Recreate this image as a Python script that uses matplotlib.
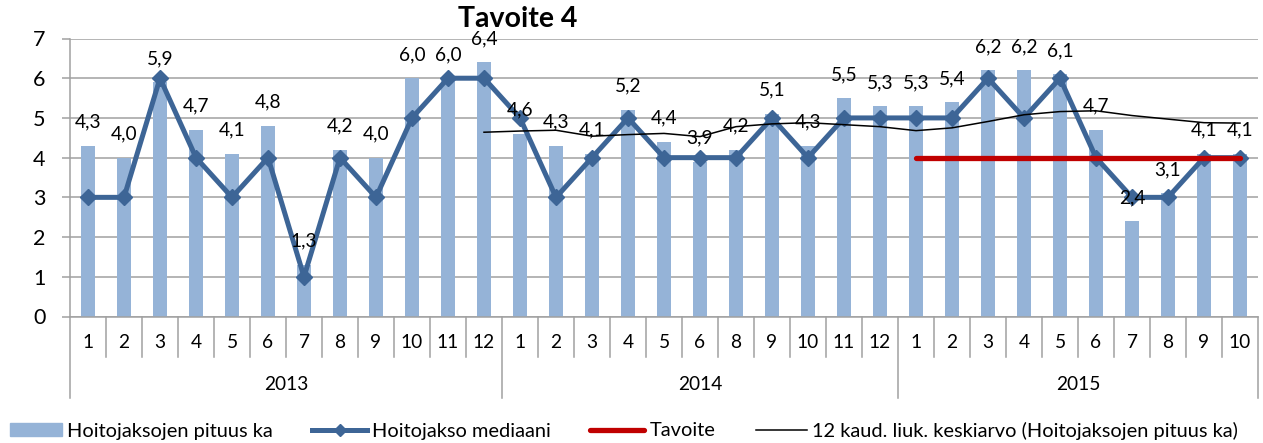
import matplotlib
matplotlib.use("agg")
import matplotlib.pyplot as plt
import matplotlib.transforms as mtransforms
from matplotlib.lines import Line2D
from matplotlib.patches import Patch

plt.rcParams["font.family"] = ["Lato", "DejaVu Sans"]

years = ["2013", "2014", "2015"]
months = [
    [1, 2, 3, 4, 5, 6, 7, 8, 9, 10, 11, 12],
    [1, 2, 3, 4, 5, 6, 8, 9, 10, 11, 12],
    [1, 2, 3, 4, 5, 6, 7, 8, 9, 10],
]
pituus_ka = [4.3, 4.0, 5.9, 4.7, 4.1, 4.8, 1.3, 4.2, 4.0, 6.0, 6.0, 6.4,
             4.6, 4.3, 4.1, 5.2, 4.4, 3.9, 4.2, 5.1, 4.3, 5.5, 5.3,
             5.3, 5.4, 6.2, 6.2, 6.1, 4.7, 2.4, 3.1, 4.1, 4.1]
mediaani = [3, 3, 6, 4, 3, 4, 1, 4, 3, 5, 6, 6,
            5, 3, 4, 5, 4, 4, 4, 5, 4, 5, 5,
            5, 5, 6, 5, 6, 4, 3, 3, 4, 4]
# 12 kaud. liukuva keskiarvo, alkaa 2013/12
liuk_start = 11
liuk_ka = [4.64, 4.67, 4.69, 4.54, 4.58, 4.61, 4.53, 4.78, 4.85, 4.88, 4.83,
           4.78, 4.68, 4.75, 4.91, 5.08, 5.16, 5.18, 5.06, 4.97, 4.88, 4.87]
tavoite_start = 23
tavoite = [4, 4, 4, 4, 4, 4, 4, 4, 4, 4]

bar_color = "#95B3D7"
line_color = "#3D6596"
red = "#C00000"
grid_color = "#A0A0A0"

W, H = 1263, 443
fig = plt.figure(figsize=(W / 100, H / 100), dpi=100)
ax = fig.add_axes([70 / W, 1 - 316.5 / H, 1188 / W, 278 / H])

n = len(pituus_ka)
x = list(range(n))
ax.bar(x, pituus_ka, width=0.39, color=bar_color, zorder=2)
ax.plot(x, mediaani, color=line_color, lw=3.6, marker="D", ms=8.5,
        zorder=3)
ax.plot(range(tavoite_start, tavoite_start + len(tavoite)), tavoite,
        color=red, lw=3.8, solid_capstyle="round", zorder=4)
ax.plot(range(liuk_start, liuk_start + len(liuk_ka)), liuk_ka,
        color="black", lw=1.1, zorder=5)

for i, v in enumerate(pituus_ka):
    ax.annotate(f"{v:.1f}".replace(".", ","), (i, v), xytext=(0, 17),
                textcoords="offset points", ha="center", va="center",
                fontsize=13.8, zorder=6)

ax.set_xlim(-0.5, n - 0.5)
ax.set_ylim(0, 7)
ax.set_yticks(range(8))
ax.yaxis.grid(True, color=grid_color, lw=1.1, zorder=0)
ax.set_axisbelow(True)
ax.tick_params(axis="y", direction="out", length=5.8, width=1.1,
               color=grid_color, pad=12, labelsize=15.5)
ax.set_xticks([])
for s in ["top", "right", "left"]:
    ax.spines[s].set_visible(False)
ax.spines["bottom"].set_color(grid_color)
ax.spines["bottom"].set_linewidth(1.1)

# moniportainen kategoria-akseli
trans = mtransforms.blended_transform_factory(ax.transData, ax.transAxes)
pos = 0
year_bounds = [-0.5]
for yr, ms in zip(years, months):
    for j, m in enumerate(ms):
        ax.text(pos + j, -0.095, str(m), transform=trans, ha="center",
                va="center", fontsize=13.8)
        if j > 0:
            ax.plot([pos + j - 0.5] * 2, [0, -0.146], transform=trans,
                    color=grid_color, lw=1.1, clip_on=False)
    ax.text(pos + (len(ms) - 1) / 2, -0.243, yr, transform=trans,
            ha="center", va="center", fontsize=13.8)
    pos += len(ms)
    year_bounds.append(pos - 0.5)
for b in year_bounds:
    top = 1 if b == -0.5 else 0
    ax.plot([b, b], [top, -0.293], transform=trans, color=grid_color,
            lw=1.1, clip_on=False)

fig.text(518 / W, 1 - 19 / H, "Tavoite 4", ha="center", va="center",
         fontsize=20.5, fontweight="bold")

entries = [
    (10, Patch(color=bar_color), "Hoitojaksojen pituus ka", 2.6),
    (312, Line2D([], [], color=line_color, lw=3.6, marker="D", ms=6),
     "Hoitojakso mediaani", 2.75),
    (590, Line2D([], [], color=red, lw=3.8, solid_capstyle="round"),
     "Tavoite", 2.7),
    (756, Line2D([], [], color="black", lw=1.1),
     "12 kaud. liuk. keskiarvo (Hoitojaksojen pituus ka)", 2.55),
]
for x0, h, lab, hl in entries:
    fig.legend(handles=[h], labels=[lab], loc="center left",
               bbox_to_anchor=(x0 / W, 1 - 431 / H), frameon=False,
               borderpad=0, borderaxespad=0, handlelength=hl,
               handletextpad=0.27, handleheight=0.62, numpoints=1,
               fontsize=14.4)

fig.savefig("out.png", dpi=100)
